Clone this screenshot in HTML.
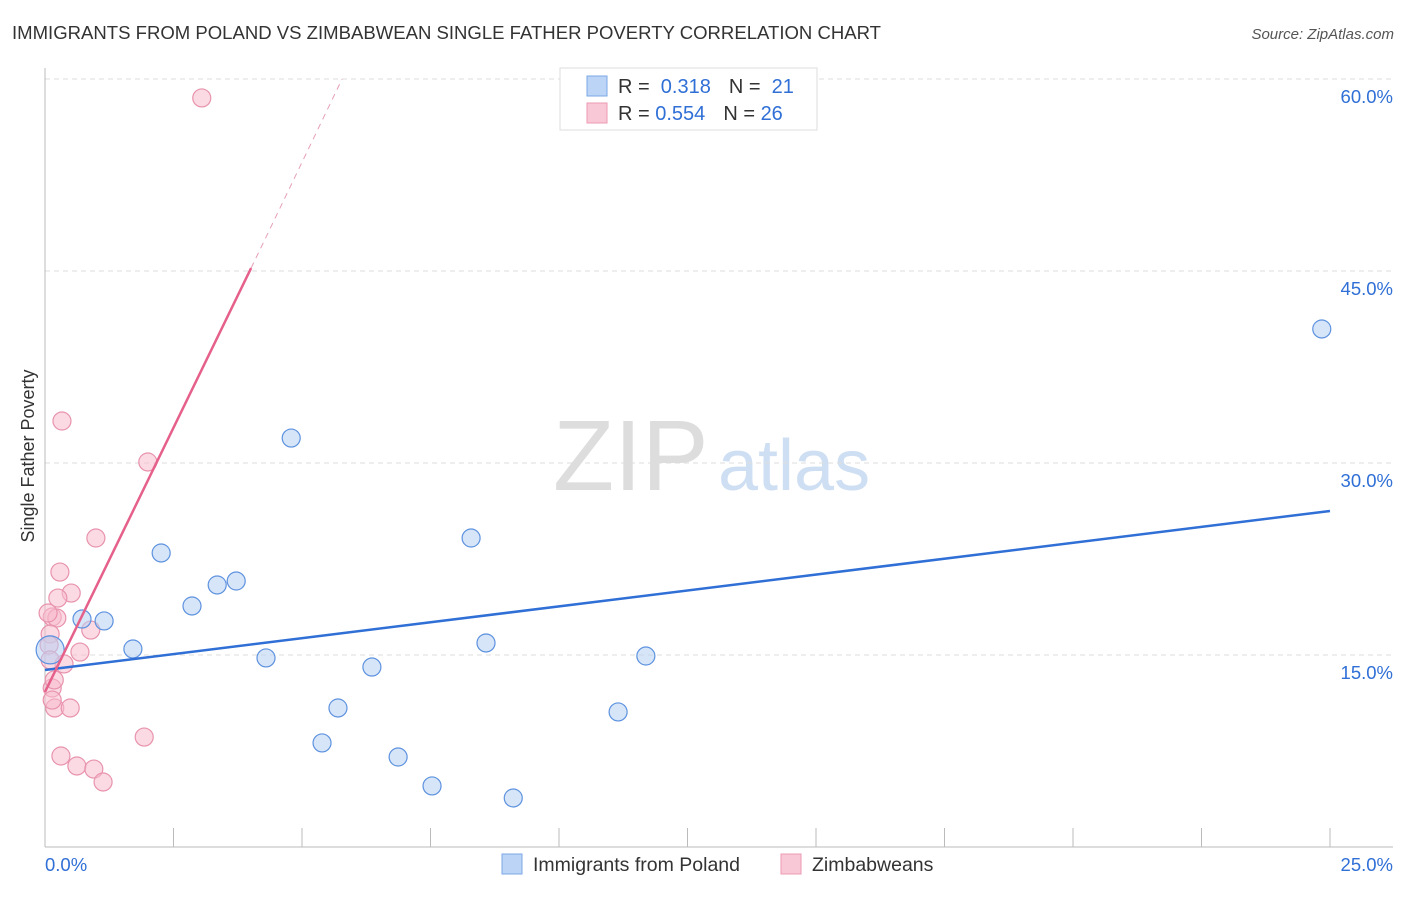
<!DOCTYPE html>
<html><head><meta charset="utf-8"><style>
body{margin:0;background:#fff;font-family:"Liberation Sans",sans-serif;}
svg text{font-family:"Liberation Sans",sans-serif;}
</style></head><body>
<svg id="c" width="1406" height="892">
<text x="12" y="39" font-size="18.5" fill="#333" textLength="869" lengthAdjust="spacingAndGlyphs">IMMIGRANTS FROM POLAND VS ZIMBABWEAN SINGLE FATHER POVERTY CORRELATION CHART</text>
<text x="1394" y="39" font-size="15" fill="#555" text-anchor="end" font-style="italic">Source: ZipAtlas.com</text>
<text x="34" y="456" font-size="18" fill="#333" text-anchor="middle" transform="rotate(-90 34 456)">Single Father Poverty</text>
<g><text x="553" y="490" font-size="100" fill="#ddd" font-family="Liberation Serif,serif">ZIP</text><text x="718" y="490" font-size="72" fill="#cfdff3">atlas</text></g>
<g id="grid"></g><g id="axes"></g><g id="marks"></g>
<g>
<rect x="560" y="68" width="257" height="62" fill="#fff" stroke="#ddd"/>
<rect x="587" y="76" width="20" height="20" fill="#bcd4f5" stroke="#7aa7e6"/>
<rect x="587" y="103" width="20" height="20" fill="#f9c8d6" stroke="#ec9ab3"/>
<text x="618" y="93" font-size="20" fill="#333">R = <tspan fill="#2f6fd6">&#160;0.318</tspan><tspan dx="18">N = </tspan><tspan fill="#2f6fd6">&#160;21</tspan></text>
<text x="618" y="120" font-size="20" fill="#333">R = <tspan fill="#2f6fd6">0.554</tspan><tspan dx="18">N = </tspan><tspan fill="#2f6fd6">26</tspan></text>
</g>
<g>
<rect x="502" y="854" width="20" height="20" fill="#bcd4f5" stroke="#7aa7e6"/>
<text x="533" y="871" font-size="19.5" fill="#333">Immigrants from Poland</text>
<rect x="781" y="854" width="20" height="20" fill="#f9c8d6" stroke="#ec9ab3"/>
<text x="812" y="871" font-size="19.5" fill="#333">Zimbabweans</text>
</g>
</svg>
<script>
const yTicks=[15,30,45,60];
const xTickLabels=["0.0%","25.0%"];
const polandX=[0.72,1.15,1.71,2.26,2.86,3.35,3.72,4.30,4.79,5.39,5.70,6.36,6.87,7.53,8.29,8.58,9.11,11.15,11.69,24.84,0.1];
const polandY=[17.81,17.66,15.47,22.97,18.83,20.47,20.78,14.77,31.95,8.13,10.86,14.06,7.03,4.77,24.14,15.94,3.83,10.55,14.92,40.47,15.4];
const zimX=[3.05,0.33,2.00,0.99,0.29,0.51,0.25,0.14,0.23,0.89,0.10,0.08,0.68,0.37,0.14,0.18,0.19,0.49,1.93,0.31,0.62,0.95,1.13,0.10,0.06,0.14];
const zimY=[58.52,33.28,30.08,24.14,21.48,19.84,19.45,17.97,17.89,16.95,16.64,15.78,15.23,14.30,12.42,13.05,10.86,10.86,8.59,7.11,6.33,6.09,5.08,14.61,18.28,11.48];
const polandTrend=[[0,13.83],[25,26.25]];
const zimTrendSolid=[[0,12.11],[4.01,45.23]];
const zimTrendDashed=[[4.01,45.23],[5.78,60.0]];
const X=v=>45+v*51.4, Y=v=>847-v*12.8;
const NS="http://www.w3.org/2000/svg";
function mk(t,a,p){const e=document.createElementNS(NS,t);for(const k in a)e.setAttribute(k,a[k]);p.appendChild(e);return e;}
const grid=document.getElementById('grid'),axes=document.getElementById('axes'),marks=document.getElementById('marks');
yTicks.forEach(t=>{
 const l=mk('line',{x1:45,x2:1393,y1:Y(t),y2:Y(t),stroke:'#ddd','stroke-dasharray':'5,4'},grid);
 
 
 const tx=mk('text',{x:1393,y:Y(t)+24,'font-size':18.5,fill:'#2f6fd6','text-anchor':'end'},grid);
 tx.textContent=t.toFixed(1)+'%';
 
 
});
const ax=mk('line',{x1:45,x2:1393,y1:847,y2:847,stroke:'#bbb'},axes);


const ay=mk('line',{x1:45,x2:45,y1:68,y2:847,stroke:'#bbb'},axes);


for(let i=0;i<=10;i++){const t=mk('line',{x1:X(i*2.5),x2:X(i*2.5),y1:828,y2:847,stroke:'#bbb'},axes);
 
 }
[[0,'start'],[25,'end']].forEach((p,i)=>{const t=mk('text',{x:i?1393:45,y:871,'font-size':18.5,fill:'#2f6fd6','text-anchor':p[1]},axes);t.textContent=xTickLabels[i];
 
 });
function pts(xs,ys,fill,stroke,name){xs.forEach((x,i)=>{const r=(name==='poland-point'&&i===20)?14:9;
 const c=mk('circle',{cx:X(x),cy:Y(ys[i]),r:r,fill:fill,'fill-opacity':0.55,stroke:stroke,'stroke-width':1.2},marks);
 
 });}
pts(zimX,zimY,'#f7bccd','#e893ad','zimbabwe-point');
pts(polandX,polandY,'#b6cff2','#5d92df','poland-point');
function line(d,col,w,dash,name){const l=mk('line',{x1:X(d[0][0]),y1:Y(d[0][1]),x2:X(d[1][0]),y2:Y(d[1][1]),stroke:col,'stroke-width':w},marks);if(dash)l.setAttribute('stroke-dasharray',dash);
 
 }
line(polandTrend,'#2f6fd6',2.5,null,'poland-trend-line');
line(zimTrendSolid,'#e5608a',2.5,null,'zimbabwe-trend-line');
line(zimTrendDashed,'#e5a0b6',1,'6,5','zimbabwe-trend-extension');
</script>
</body></html>
